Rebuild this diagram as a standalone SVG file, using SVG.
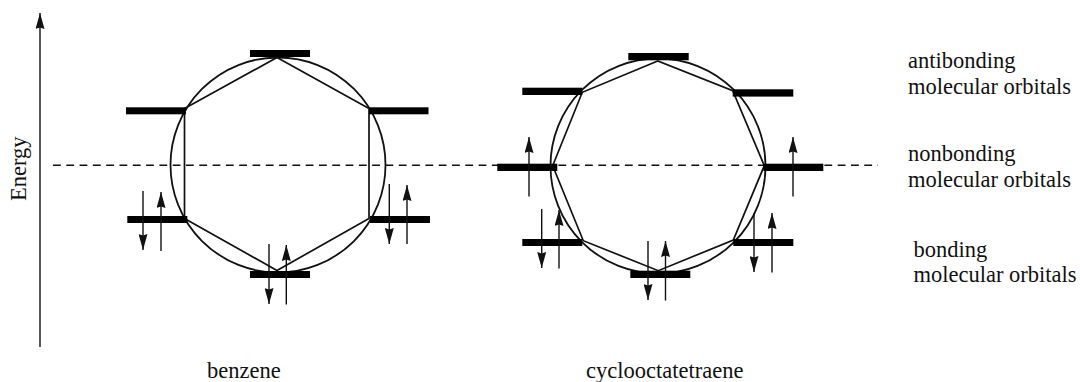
<svg xmlns="http://www.w3.org/2000/svg" width="1080" height="382" viewBox="0 0 1080 382">
<style>
text{font-family:"Liberation Serif","Times New Roman",serif;font-size:22.5px;fill:#111}
.l{fill:none;stroke:#111;stroke-width:1.7}
.ring{fill:none;stroke:#111;stroke-width:1.8}
.bar{fill:#000}
.a{stroke:#111;stroke-width:1.4;fill:none;marker-end:url(#h)}
</style>
<defs>
<marker id="h" markerUnits="userSpaceOnUse" markerWidth="16" markerHeight="9" refX="16" refY="4.500" orient="auto" viewBox="0 0 16 9"><path d="M0 0 L16 4.500 L0 9 L1.500 4.500 Z" fill="#111"/></marker>
</defs>
<rect width="1080" height="382" fill="#fff"/>
<g id="connectors">
<path class="a" d="M40 347V13"/>
<path d="M53 165.300H878" fill="none" stroke="#111" stroke-width="1.500" stroke-dasharray="7.800 5.500"/>
</g>
<g id="benzene">
<circle class="ring" cx="278" cy="165" r="107.500"/>
<path class="l" d="M277 57.500L369 108.500V218.500L277 270.500L184.500 218.500V108.500Z"/>
<rect class="bar" x="250" y="50" width="60" height="7"/>
<rect class="bar" x="126" y="107.300" width="60" height="7"/>
<rect class="bar" x="369" y="107.300" width="59.500" height="7"/>
<rect class="bar" x="127.300" y="216" width="60" height="7"/>
<rect class="bar" x="370" y="216" width="60" height="7"/>
<rect class="bar" x="250" y="271" width="60" height="7"/>
<path class="a" d="M143 191V250"/><path class="a" d="M161 251V192"/>
<path class="a" d="M389.300 184V244"/><path class="a" d="M407 244V185"/>
<path class="a" d="M269 244V304"/><path class="a" d="M286.300 304.500V245"/>
</g>
<g id="cyclooctatetraene">
<circle class="ring" cx="658" cy="166" r="107.500"/>
<path class="l" d="M657.700 61L582.300 92.300L552.700 165.700L583.300 240.700L658.300 270.700L733.300 240L764.300 165.700L732.700 90.700Z"/>
<rect class="bar" x="628.300" y="53" width="60.400" height="7.300"/>
<rect class="bar" x="522.300" y="87.700" width="60" height="7.300"/>
<rect class="bar" x="732.700" y="89.300" width="60.600" height="7.300"/>
<rect class="bar" x="497.300" y="163.700" width="60" height="7.300"/>
<rect class="bar" x="763.300" y="163.700" width="60" height="7.300"/>
<rect class="bar" x="522.300" y="239" width="60" height="7"/>
<rect class="bar" x="733.300" y="239" width="60" height="7"/>
<rect class="bar" x="630.300" y="270.700" width="60" height="7.300"/>
<path class="a" d="M529 196.500V137"/><path class="a" d="M793 196.500V137"/>
<path class="a" d="M541.700 209V268"/><path class="a" d="M559 268.500V210"/>
<path class="a" d="M754 213V272"/><path class="a" d="M772 272.500V213"/>
<path class="a" d="M648 241V300"/><path class="a" d="M665.500 300.500V241"/>
</g>
<g id="labels">
<text transform="translate(26 201) rotate(-90)">Energy</text>
<text x="207" y="378">benzene</text>
<text x="586" y="378">cyclooctatetraene</text>
<text x="908" y="68">antibonding</text>
<text x="908" y="94">molecular orbitals</text>
<text x="908" y="161">nonbonding</text>
<text x="908" y="187">molecular orbitals</text>
<text x="913.500" y="257">bonding</text>
<text x="913.500" y="282">molecular orbitals</text>
</g>
</svg>
